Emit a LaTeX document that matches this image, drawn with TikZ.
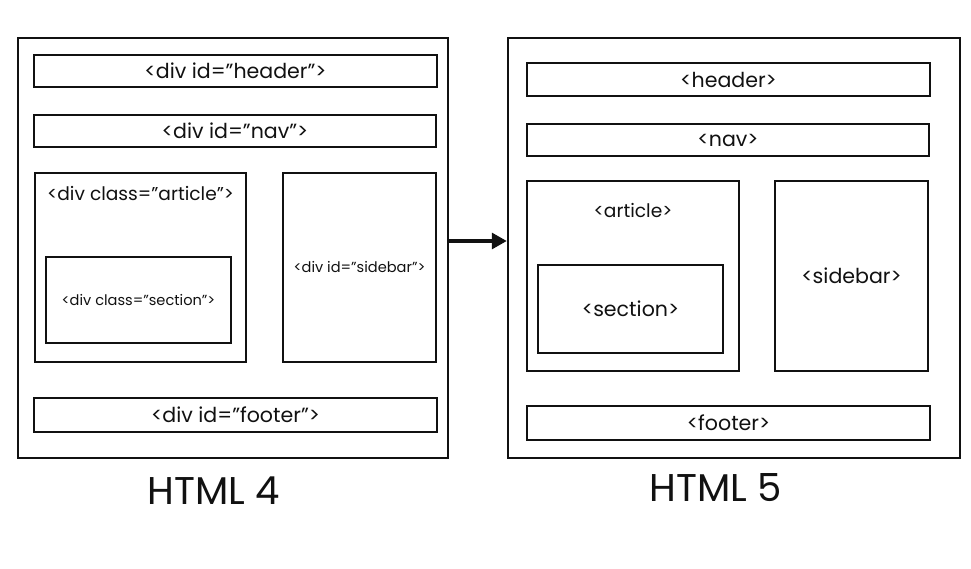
\documentclass[tikz,border=0pt]{standalone}
\usepackage{fontspec}
\setmainfont{Poppins}
\usepackage{tikz}
\usetikzlibrary{positioning,arrows.meta}
\definecolor{ink}{HTML}{111111}

\begin{document}
\begin{tikzpicture}[
  % every box is drawn at its centre, sizes taken from the screenshot grid
  page/.style  = {draw=ink, line width=1.4pt, inner sep=0pt},
  block/.style = {draw=ink, line width=1.3pt, inner sep=2pt, align=center,
                  font=\fontsize{11.7}{13}\selectfont, text=ink},
  small/.style = {font=\fontsize{8.3}{10}\selectfont},
  tag/.style   = {inner sep=1pt, text=ink, font=\fontsize{10.6}{12}\selectfont},
  title/.style = {inner sep=0pt, text=ink, font=\fontsize{22}{24}\selectfont},
  hop/.style   = {-{Triangle[length=3mm,width=3.2mm]}, line width=1.8pt, draw=ink},
]
\useasboundingbox (0,0) rectangle (19.42,-11.36);

% ------------------------------------------------------------------ html 4 --
\node[page, minimum width=8.6cm, minimum height=8.4cm] (outer4) at (4.66,-4.96) {};
\node[block, minimum width=8.06cm, minimum height=0.64cm] (head4) at (4.71,-1.42) {<div id="header">};
\node[block, minimum width=8.04cm, minimum height=0.64cm] (nav4) at (4.70,-2.62) {<div id="nav">};
\node[block, minimum width=4.22cm, minimum height=3.78cm] (art4) at (2.81,-5.35) {};
\node[tag, below=2.4mm of art4.north] (artlbl4) {<div class="article">};
\node[block, small, minimum width=3.70cm, minimum height=1.72cm] (sec4) at (2.77,-6.00) {<div class="section">};
\node[block, small, minimum width=3.06cm, minimum height=3.78cm] (side4) at (7.19,-5.35) {<div id="sidebar">};
\node[block, minimum width=8.06cm, minimum height=0.68cm] (foot4) at (4.71,-8.30) {<div id="footer">};
\node[title] (html4) at (4.28,-9.82) {HTML 4};

% ------------------------------------------------------------------ html 5 --
\node[page, minimum width=9.04cm, minimum height=8.4cm] (outer5) at (14.68,-4.96) {};
\node[block, minimum width=8.06cm, minimum height=0.66cm] (head5) at (14.57,-1.59) {<header>};
\node[block, minimum width=8.04cm, minimum height=0.64cm] (nav5) at (14.56,-2.80) {<nav>};
\node[block, minimum width=4.24cm, minimum height=3.80cm] (art5) at (12.66,-5.52) {};
\node[tag, below=4.2mm of art5.north] (artlbl5) {<article>};
\node[block, minimum width=3.70cm, minimum height=1.76cm] (sec5) at (12.61,-6.18) {<section>};
\node[block, minimum width=3.06cm, minimum height=3.80cm] (side5) at (17.03,-5.52) {<sidebar>};
\node[block, minimum width=8.06cm, minimum height=0.68cm] (foot5) at (14.57,-8.46) {<footer>};
\node[title] (html5) at (14.32,-9.76) {HTML 5};

% ------------------------------------------------------------------- arrow --
\draw[hop] ([yshift=1.4mm]outer4.east) -- ([yshift=1.4mm]outer5.west);

\end{tikzpicture}
\end{document}
